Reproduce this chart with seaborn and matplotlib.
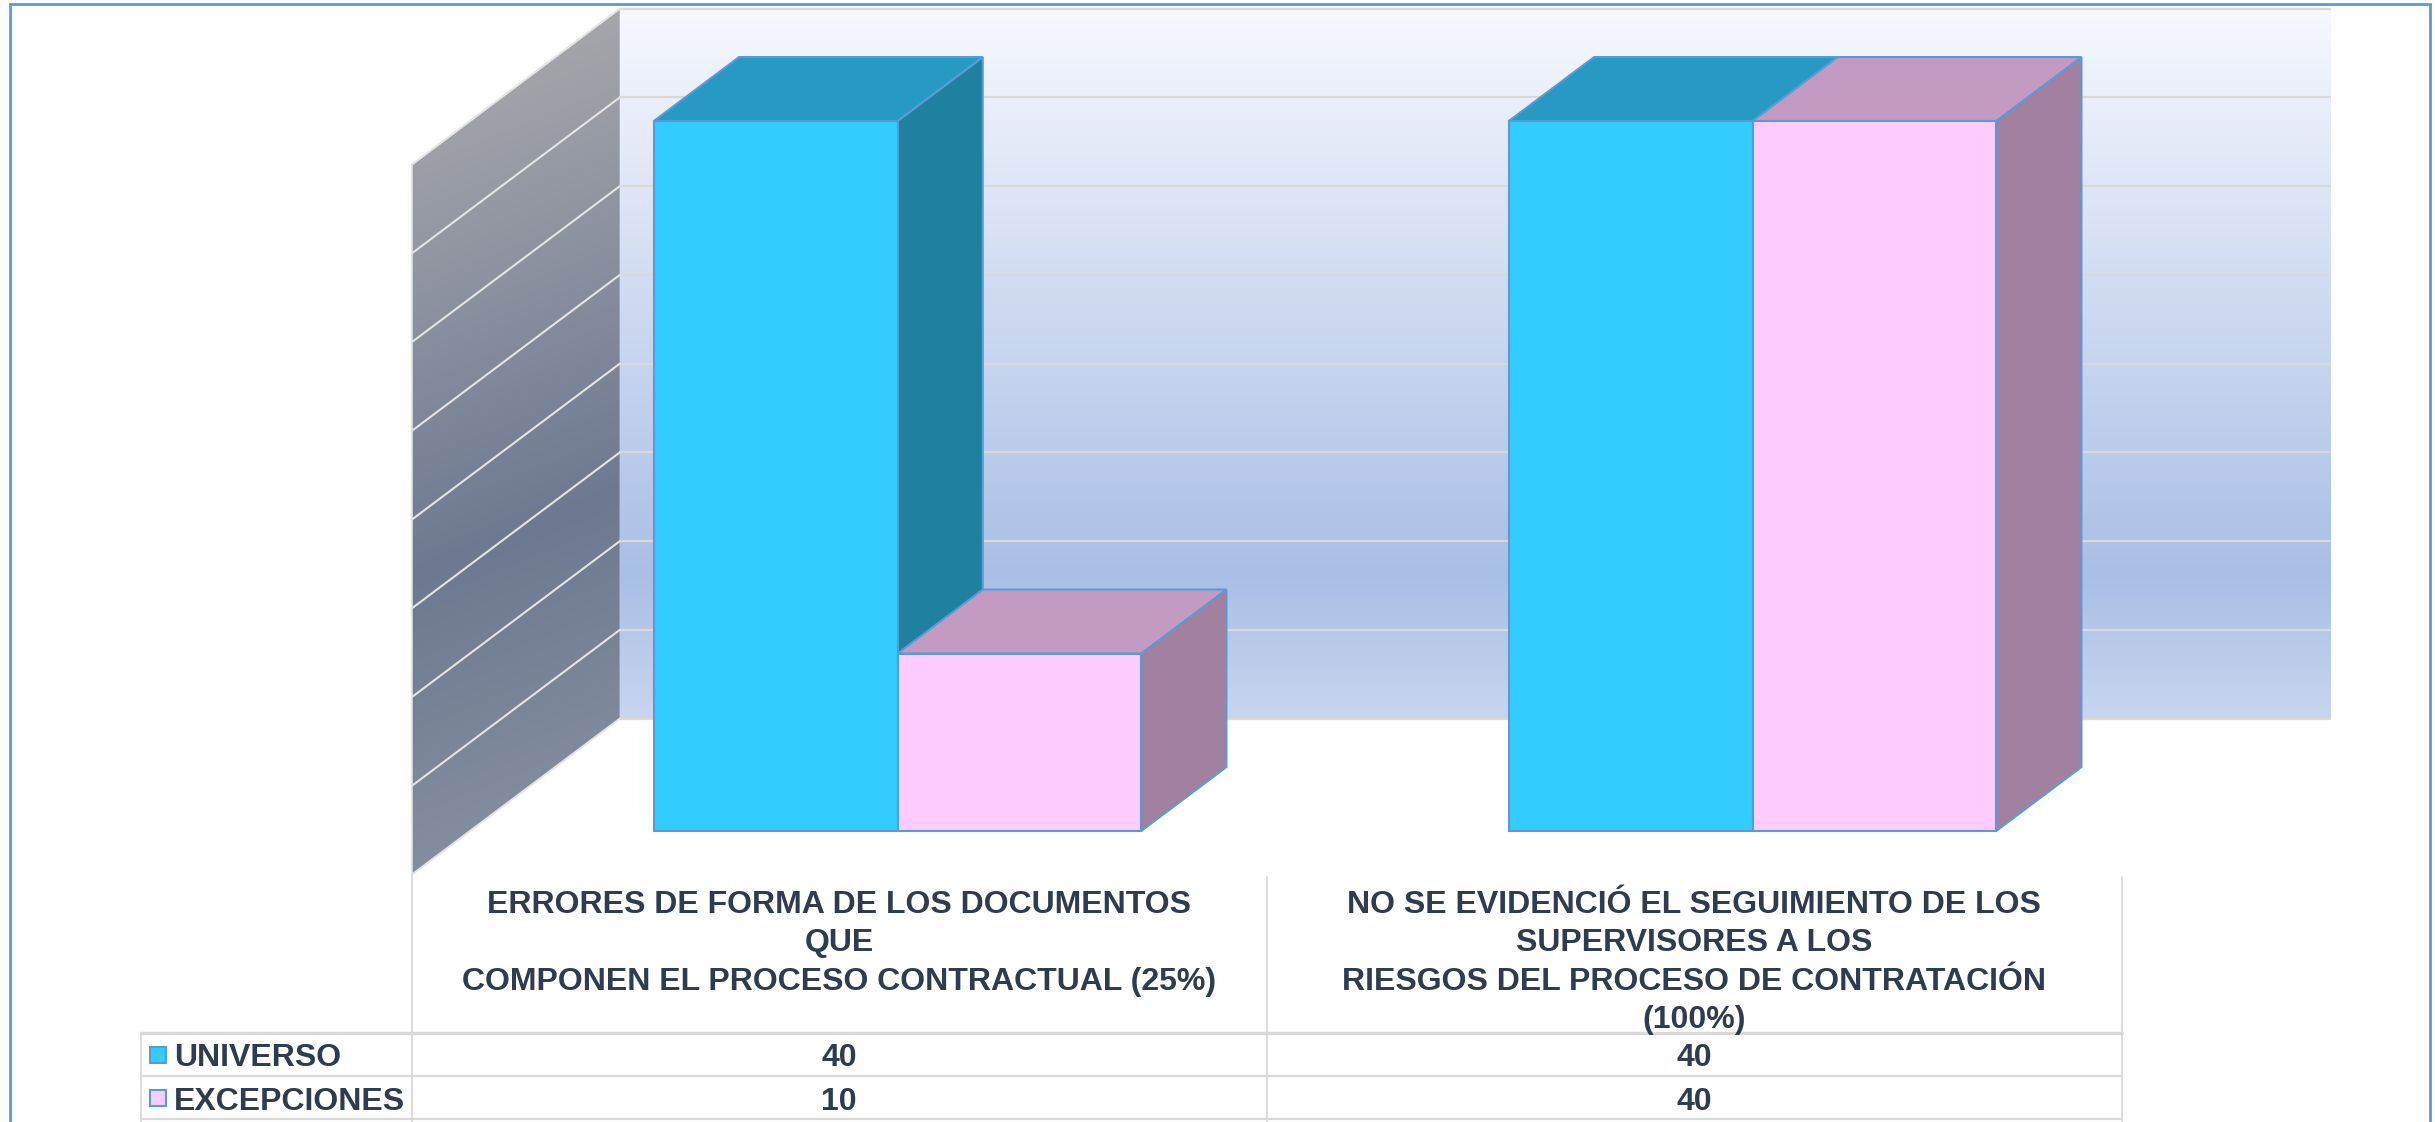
import numpy as np
import pandas as pd
import matplotlib
matplotlib.use("Agg")
import matplotlib.pyplot as plt
import matplotlib.transforms as mtransforms
from matplotlib.patches import Polygon, Rectangle
from matplotlib.colors import LinearSegmentedColormap
from matplotlib.ticker import MultipleLocator
import seaborn as sns

# data
categories = [
    "ERRORES DE FORMA DE LOS DOCUMENTOS\nQUE\nCOMPONEN EL PROCESO CONTRACTUAL (25%)",
    "NO SE EVIDENCIÓ EL SEGUIMIENTO DE LOS\nSUPERVISORES A LOS\nRIESGOS DEL PROCESO DE CONTRATACIÓN\n(100%)",
]
series_names = ["UNIVERSO", "EXCEPCIONES"]
universo = [40, 40]
excepciones = [10, 40]
y_max = 40
y_step = 5

# style
front_colors = ["#33CCFF", "#FFCCFF"]
top_colors = ["#269AC3", "#C29AC2"]
side_colors = ["#2080A0", "#A2809F"]
edge_color = "#5B9BD5"
text_color = "#2F3B4F"
grid_color = "#D9D9D9"

W, H, DPI = 2435, 1122, 100
DX_PX, DY_PX = 208, 156          # pixel shift for one unit of depth
BAR_D, WALL_D, FRONT_D = 0.41, 0.72, -0.28

sns.set_theme(style="white")
plt.rcParams["font.family"] = ["Liberation Sans", "DejaVu Sans"]

fig = plt.figure(figsize=(W / DPI, H / DPI), dpi=DPI)
ax = fig.add_axes([470 / W, 1 - 831 / H, 1710 / W, 710 / H])

df = pd.DataFrame({
    "categoria": categories * 2,
    "serie": [series_names[0]] * len(categories) + [series_names[1]] * len(categories),
    "valor": universo + excepciones,
})
sns.barplot(data=df, x="categoria", y="valor", hue="serie", order=categories,
            hue_order=series_names, palette=front_colors, saturation=1,
            width=0.57, gap=0, errorbar=None, edgecolor=edge_color,
            linewidth=1.5, legend=False, ax=ax)

xmin, xmax = -0.5, len(categories) - 0.5
ax.set_xlim(xmin, xmax)
ax.set_ylim(0, y_max)
ax.yaxis.set_major_locator(MultipleLocator(y_step))
ax.set_autoscale_on(False)
ax.set_axis_off()

# depth offsets in data units
bb = ax.get_position()
ux = bb.width * W / (xmax - xmin)
uy = bb.height * H / y_max
ddx, ddy = DX_PX / ux, DY_PX / uy


def at(x, y, d):
    return (x + d * ddx, y + d * ddy)


# back wall with vertical gradient
wall_cmap = LinearSegmentedColormap.from_list(
    "wall", [(0, "#C8D6EE"), (0.2, "#AABFE6"), (1.0, "#F6F8FD")])
grad = np.linspace(0, 1, 256).reshape(-1, 1)
wx0, wy0 = at(xmin, 0, WALL_D)
wx1, wy1 = at(xmax, y_max, WALL_D)
im = ax.imshow(grad, cmap=wall_cmap, origin="lower", aspect="auto",
               extent=(wx0, wx1, wy0, wy1), zorder=0)
im.set_clip_box(fig.bbox)

# side wall with diagonal gradient
side_cmap = LinearSegmentedColormap.from_list(
    "side", [(0, "#A5A6AA"), (0.62, "#6D7991"), (1.0, "#848E9E")])
corners = [at(xmin, 0, FRONT_D), at(xmin, y_max, FRONT_D),
           at(xmin, y_max, WALL_D), at(xmin, 0, WALL_D)]
sx0, sx1 = corners[0][0], corners[2][0]
sy0, sy1 = corners[0][1], corners[2][1]
gx, gy = np.meshgrid(np.linspace(sx0, sx1, 200), np.linspace(sy0, sy1, 400))
proj = 0.4 * (gx - sx0) * ux - gy * uy
cproj = [0.4 * (c[0] - sx0) * ux - c[1] * uy for c in corners]
tt = (proj - min(cproj)) / (max(cproj) - min(cproj))
side_poly = Polygon(corners, closed=True, transform=ax.transData)
im2 = ax.imshow(tt, cmap=side_cmap, vmin=0, vmax=1, origin="lower", aspect="auto",
                extent=(sx0, sx1, sy0, sy1), zorder=0)
im2.set_clip_path(side_poly)
im2.set_clip_box(fig.bbox)

# gridlines on both walls
for v in ax.get_yticks():
    if v < 0 or v > y_max:
        continue
    a, b = at(xmin, v, WALL_D), at(xmax, v, WALL_D)
    ax.plot([a[0], b[0]], [a[1], b[1]], color=grid_color, lw=1.6, zorder=1, clip_on=False)
    c = at(xmin, v, FRONT_D)
    ax.plot([c[0], a[0]], [c[1], a[1]], color="#E4E4E4", lw=1.5, zorder=1, clip_on=False)
ax.plot([corners[0][0], corners[1][0]], [corners[0][1], corners[1][1]],
        color="#E0E0E0", lw=1.2, zorder=1, clip_on=False)

# 3D faces for the seaborn bars
items = []
for h_idx, cont in enumerate(ax.containers):
    for bar in cont:
        items.append((bar.get_x(), h_idx, bar))
items.sort(key=lambda t: t[0])
for k, (_, h_idx, bar) in enumerate(items):
    z = 3 + k
    x0 = bar.get_x()
    x1 = x0 + bar.get_width()
    hh = bar.get_height()
    side = Polygon([(x1, 0), (x1, hh), at(x1, hh, BAR_D), at(x1, 0, BAR_D)],
                   closed=True, facecolor=side_colors[h_idx], edgecolor=edge_color,
                   lw=1.5, zorder=z, clip_on=False)
    top = Polygon([(x0, hh), (x1, hh), at(x1, hh, BAR_D), at(x0, hh, BAR_D)],
                  closed=True, facecolor=top_colors[h_idx], edgecolor=edge_color,
                  lw=1.5, zorder=z + 0.1, clip_on=False)
    ax.add_patch(side)
    ax.add_patch(top)
    bar.set_zorder(z + 0.2)
    bar.set_clip_on(False)

# data table under the chart
col_tr = mtransforms.blended_transform_factory(
    ax.transData + mtransforms.ScaledTranslation(FRONT_D * DX_PX / DPI, 0, fig.dpi_scale_trans),
    fig.transFigure)


def fy(px):
    return 1 - px / H


line_kw = dict(color=grid_color, clip_on=False)
edges = np.arange(len(categories) + 1) - 0.5
for i, e in enumerate(edges):
    top_px = 874 if i == 0 else 877
    ax.plot([e, e], [fy(top_px), fy(1125)], transform=col_tr, lw=1.3, **line_kw)
leg_x = 141 / W
fig.add_artist(plt.Line2D([leg_x, leg_x], [fy(1033), fy(1125)], lw=1.3, color=grid_color))
row_lines = [1033, 1076, 1119]
for j, ry in enumerate(row_lines):
    fig.add_artist(plt.Line2D([leg_x, 412 / W], [fy(ry), fy(ry)],
                              lw=2.4 if j == 0 else 1.6, color=grid_color))
    ax.plot([xmin, xmax], [fy(ry), fy(ry)], transform=col_tr,
            lw=2.4 if j == 0 else 1.6, **line_kw)

font_kw = dict(fontsize=23, fontweight="bold", color=text_color)
for i, cat in enumerate(categories):
    ax.text(i, fy(890), cat, transform=col_tr, ha="center", va="top",
            linespacing=1.36, **font_kw)

rows = [universo, excepciones]
row_centers = [1055, 1098]
for j, name in enumerate(series_names):
    yc = fy(row_centers[j])
    fig.add_artist(Rectangle((150 / W, yc - 8 / H), 16 / W, 16 / H,
                             facecolor=front_colors[j], edgecolor=edge_color, lw=1.5))
    fig.text(174 / W, yc, name, ha="left", va="center_baseline", **font_kw)
    for i, v in enumerate(rows[j]):
        ax.text(i, yc, str(v), transform=col_tr, ha="center",
                va="center_baseline", **font_kw)

# outer frame
fig.add_artist(Rectangle((10 / W, -0.05), 2420 / W, 1.05 - 4 / H, fill=False,
                         edgecolor=edge_color, lw=2))

fig.savefig("out.png", dpi=DPI)
